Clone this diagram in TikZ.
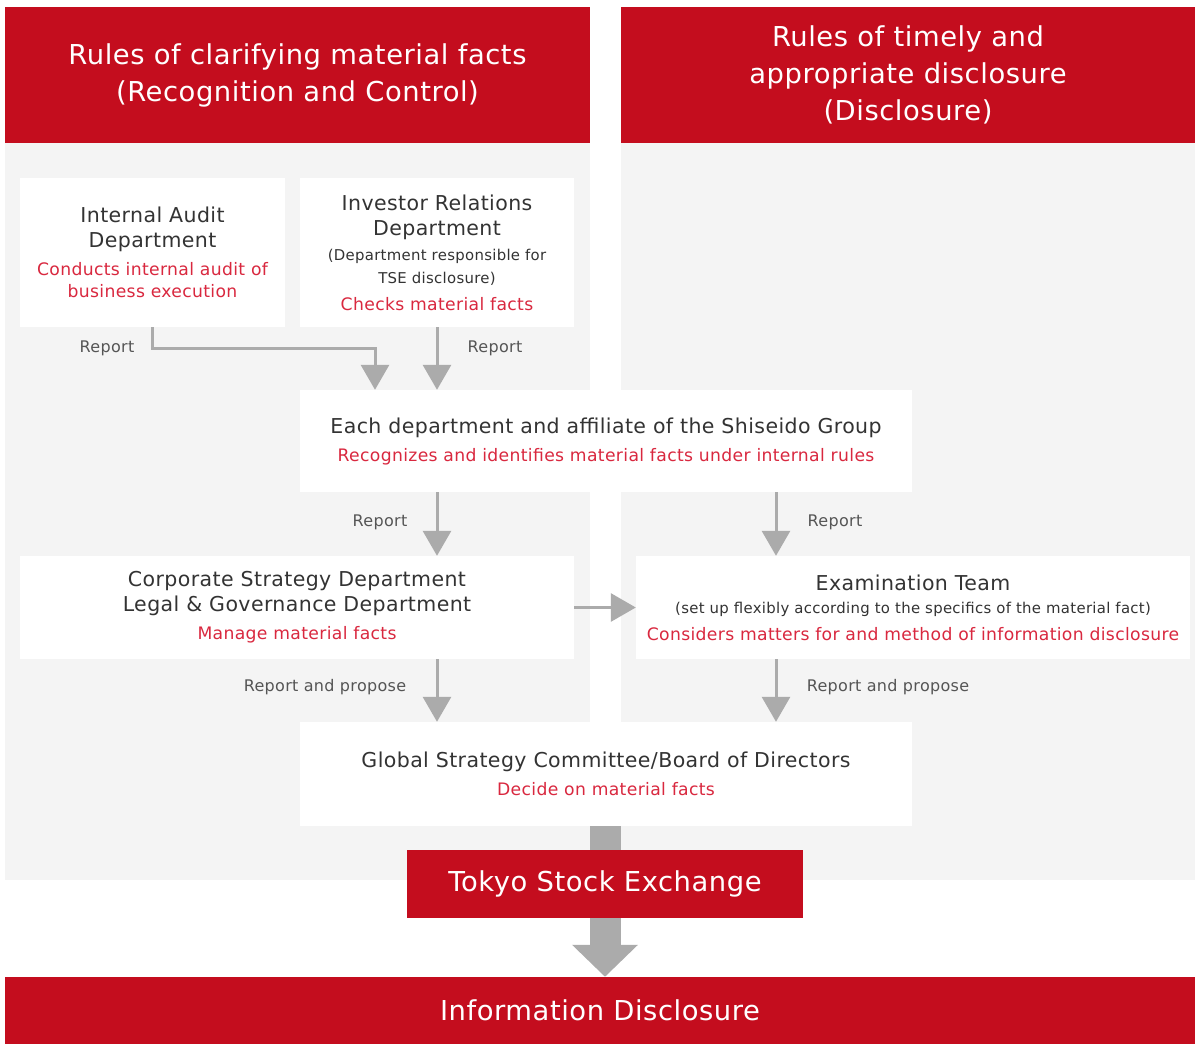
\documentclass[tikz,border=0pt]{standalone}
\usepackage{fontspec}
\setmainfont{DejaVu Sans}[LetterSpace=2]
\usetikzlibrary{arrows.meta,positioning}

\definecolor{shred}{HTML}{C40D1E}
\definecolor{panelgray}{HTML}{F4F4F4}
\definecolor{ink}{HTML}{333333}
\definecolor{redtxt}{HTML}{D9283F}
\definecolor{arrowgray}{HTML}{ABABAB}
\definecolor{notegray}{HTML}{555555}

\newcommand\ttlfont{\fontsize{20.5}{25}\selectfont\color{ink}}
\newcommand\redfont{\fontsize{17.2}{25}\selectfont\color{redtxt}}
\newcommand\notefont{\fontsize{14.9}{25}\selectfont\color{ink}}

\tikzset{
  header/.style={fill=shred, text=white, font=\fontsize{27.4}{37}\selectfont, align=center, inner sep=0pt},
  card/.style={fill=white, align=center, inner sep=0pt, font=\fontsize{20.5}{25}\selectfont},
  lbl/.style={font=\fontsize{16}{20}\selectfont, text=notegray},
  flow/.style={draw=arrowgray, line width=3pt, -{Triangle[width=28pt,length=25pt]}},
  bigflow/.style={draw=arrowgray, line width=31pt},
}

\begin{document}
\begin{tikzpicture}[x=1pt, y=-1pt]
  \useasboundingbox (0,0) rectangle (1195,1044);

  % panels
  \fill[panelgray] (5,143) rectangle (590,880);
  \fill[panelgray] (621,143) rectangle (1195,880);

  % headers
  \node[header, minimum width=585pt, minimum height=136pt] (hl) at (297.5,75)
    {Rules of clarifying material facts\\(Recognition and Control)};
  \node[header, minimum width=574pt, minimum height=136pt] (hr) at (908,75)
    {Rules of timely and\\appropriate disclosure\\(Disclosure)};

  % boxes
  \node[card, minimum width=265pt, minimum height=149pt] (ia) at (152.5,252.5)
    {\ttlfont Internal Audit\\\ttlfont Department\\[3pt]\redfont Conducts internal audit of\\[-3pt]\redfont business execution};
  \node[card, minimum width=274pt, minimum height=149pt] (ir) at (437,252.5)
    {\ttlfont Investor Relations\\\ttlfont Department\\\notefont (Department responsible for\\[-2pt]\notefont TSE disclosure)\\[2pt]\redfont Checks material facts};
  \node[card, minimum width=612pt, minimum height=102pt] (each) at (606,441)
    {\ttlfont Each department and affiliate of the Shiseido Group\\[3pt]\redfont Recognizes and identifies material facts under internal rules};
  \node[card, minimum width=554pt, minimum height=103pt] (corp) at (297,607.5)
    {\ttlfont Corporate Strategy Department\\\ttlfont Legal \& Governance Department\\[3pt]\redfont Manage material facts};
  \node[card, minimum width=554pt, minimum height=103pt] (exam) at (913,607.5)
    {\ttlfont Examination Team\\[-2pt]\notefont (set up flexibly according to the specifics of the material fact)\\[2pt]\redfont Considers matters for and method of information disclosure};
  \node[card, minimum width=612pt, minimum height=104pt] (gsc) at (606,774)
    {\ttlfont Global Strategy Committee/Board of Directors\\[3pt]\redfont Decide on material facts};
  \node[header, minimum width=396pt, minimum height=68pt] (tse) at (605,884)
    {Tokyo Stock Exchange};
  \node[header, minimum width=1190pt, minimum height=67pt] (info) at (600,1010.5)
    {Information Disclosure};

  % connectors
  \coordinate (j1) at (375,348);
  \coordinate (rx) at (776,0);
  \draw[flow] (ia.south) |- (j1) -- (j1 |- each.north);
  \draw[flow] (ir.south) -- (ir.south |- each.north);
  \draw[flow] (ir.south |- each.south) -- (ir.south |- corp.north);
  \draw[flow] (rx |- each.south) -- (rx |- exam.north);
  \draw[flow] (corp.east) -- (exam.west);
  \draw[flow] (ir.south |- corp.south) -- (ir.south |- gsc.north);
  \draw[flow] (rx |- exam.south) -- (rx |- gsc.north);
  \draw[bigflow] (tse.north |- gsc.south) -- (tse.north);
  \draw[bigflow, -{Triangle[width=64pt,length=32pt]}] (tse.south) -- (tse.south |- info.north);

  % labels
  \node[lbl] at (107,348) {Report};
  \node[lbl] at (495,348) {Report};
  \node[lbl] at (380,522) {Report};
  \node[lbl] at (835,522) {Report};
  \node[lbl] at (325,687) {Report and propose};
  \node[lbl] at (888,687) {Report and propose};
\end{tikzpicture}
\end{document}
